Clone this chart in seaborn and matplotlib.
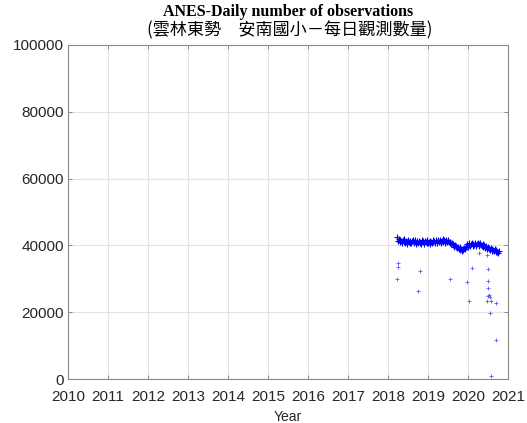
import numpy as np
import pandas as pd
import matplotlib
matplotlib.use('Agg')
import matplotlib.pyplot as plt
import matplotlib.dates as mdates
import seaborn as sns

# weekly reading of the dense daily band (starts 2018-03-28)
band_start = '2018-03-28'
band_vals = [
    42500, 41400, 41900, 40900, 41600, 41200, 40700, 41500, 41000, 41800,
    40600, 41300, 41100, 40500, 41700, 41000, 40800, 41400, 40600, 41200,
    41500, 40700, 40900, 41600, 40400, 41100, 41300, 40600, 41400, 40800,
    41000, 40500, 41500, 40900, 41200, 40400, 41300, 41000, 40700, 41600,
    40800, 41100, 40500, 41400, 41000, 40700, 41600, 40900, 41200, 40600,
    41500, 41100, 40800, 41700, 40900, 41300, 41600, 40700, 41200, 41800,
    41000, 41500, 40800, 41700, 41300, 40900, 41600, 41000, 40600, 41100,
    40300, 40700, 40000, 40500, 39600, 40200, 39500, 39900, 39100, 39600,
    38900, 39400, 38500, 39000, 38200, 38800, 38600, 39200, 38900, 39500,
    39900, 40400, 39600, 40200, 40600, 39800, 40300, 40700, 39700, 40400,
    40000, 40600, 40200, 39700, 40500, 40800, 39900, 40300, 40600, 40000,
    39700, 40300, 39500, 40000, 39300, 39800, 39600, 39000, 39500, 38800,
    39200, 38600, 39100, 38400, 38900, 38700, 38200, 38800, 38000, 38500,
    38100, 37700, 38300,
]

# days that fall well below the band
low_dates = [
    '2018-03-22', '2018-04-02', '2018-04-03', '2018-10-05', '2018-10-23',
    '2019-07-19', '2019-12-20', '2020-01-15', '2020-02-10', '2020-04-08',
    '2020-06-24', '2020-06-27', '2020-06-28', '2020-06-29', '2020-07-01',
    '2020-07-05', '2020-07-09', '2020-07-19', '2020-07-20', '2020-07-27',
    '2020-07-30', '2020-09-12', '2020-09-13',
]
low_vals = [
    29950, 34800, 33600, 26350, 32300,
    29850, 29050, 23400, 33300, 37600,
    37100, 23350, 32800, 29300, 24700,
    27150, 25100, 24600, 19760, 900,
    23350, 11680, 22750,
]

year_ticks = list(range(2010, 2022))

band = pd.DataFrame({'date': pd.date_range(band_start, periods=len(band_vals), freq='7D'),
                     'count': band_vals})
low = pd.DataFrame({'date': pd.to_datetime(low_dates), 'count': low_vals})

sns.set_theme(style='ticks')
plt.rcParams['font.family'] = ['Liberation Sans', 'DejaVu Sans']

fig = plt.figure(figsize=(5.27, 4.23), dpi=100)
ax = fig.add_axes([0.129, 0.104, 0.835, 0.79])

sns.scatterplot(data=band, x='date', y='count', marker='+', color='#0000ff',
                edgecolor='#0000ff', s=14, linewidth=0.8, ax=ax, legend=False)
sns.scatterplot(data=low, x='date', y='count', marker='+', color='#5a5aff',
                edgecolor='#5a5aff', s=12, linewidth=0.6, ax=ax, legend=False)

ax.set_xlim(pd.Timestamp('2010-01-01'), pd.Timestamp('2021-01-01'))
ax.set_ylim(0, 100000)
ax.set_xticks([pd.Timestamp(f'{y}-01-01') for y in year_ticks])
ax.xaxis.set_major_formatter(mdates.DateFormatter('%Y'))
ax.set_yticks(range(0, 100001, 20000))
ax.grid(True, color='#e3e3e3', linewidth=0.8)
ax.set_axisbelow(True)

for sp in ax.spines.values():
    sp.set_visible(True)
    sp.set_color('#8a8a8a')
    sp.set_linewidth(0.8)
ax.tick_params(direction='in', length=3, width=0.7, color='#8a8a8a',
               labelsize=11, labelcolor='#262626', top=True, right=True, pad=3)
ax.tick_params(axis='x', pad=8)

ax.set_xlabel('Year', fontsize=10, color='#262626', labelpad=4)
ax.set_ylabel('')

# title is centred over the axes, not the figure
fig.text(0.547, 0.972, 'ANES-Daily number of observations', ha='center', va='center',
         fontsize=11.5, fontweight='bold', family=['Liberation Serif', 'DejaVu Serif'],
         color='black')
fig.text(0.549, 0.928, '(雲林東勢\u3000安南國小－每日觀測數量)', ha='center', va='center',
         fontsize=12.3, fontweight='light',
         family=['Noto Sans CJK TC', 'Liberation Serif', 'DejaVu Sans'],
         color='black')

fig.savefig('out.png', dpi=100)
